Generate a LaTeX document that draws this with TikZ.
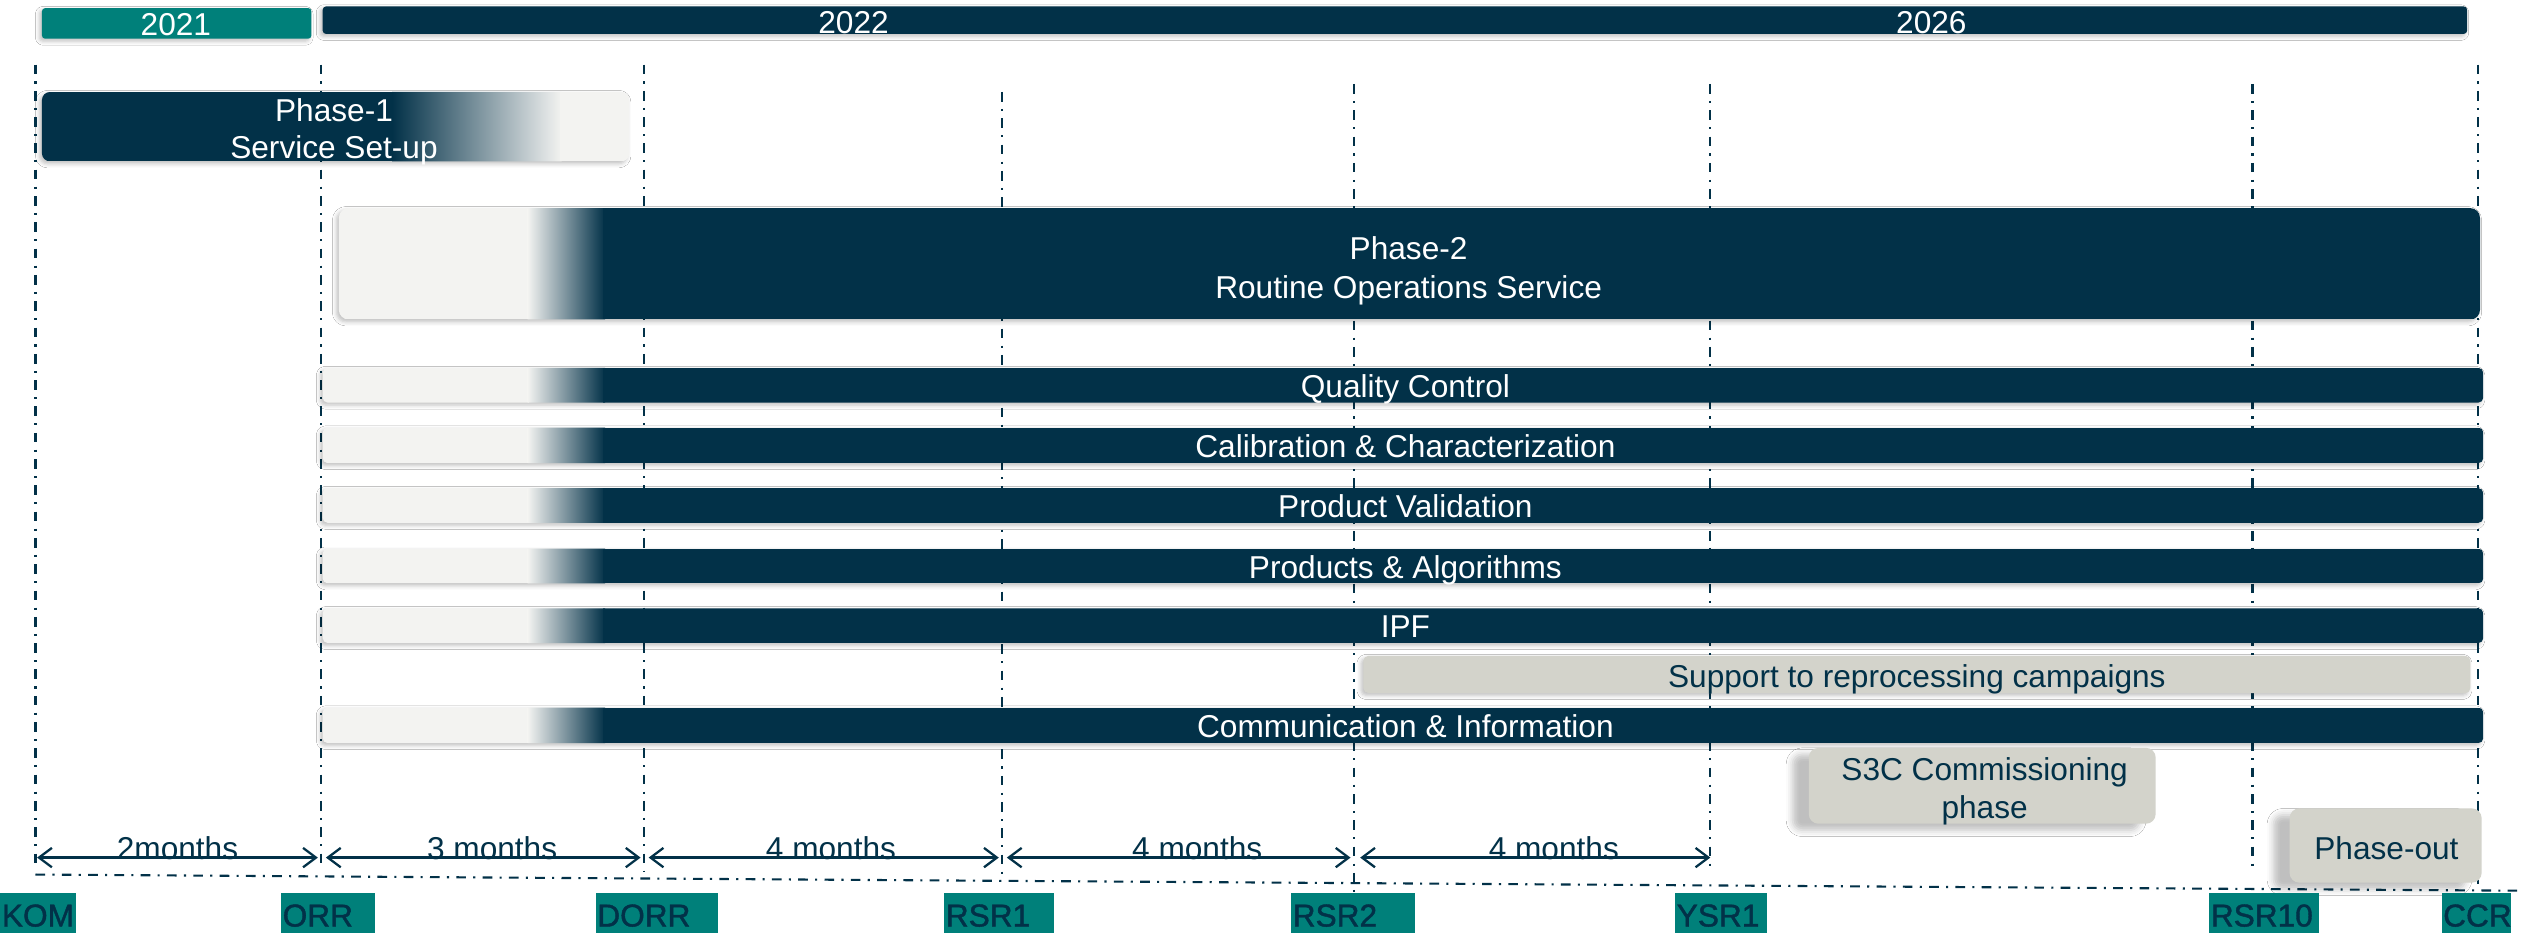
\documentclass[tikz,border=0pt]{standalone}
\usepackage{fontspec}
\setmainfont{Liberation Sans}
\newfontfamily\msfont[FakeBold=1.3]{Liberation Sans}
\usetikzlibrary{arrows.meta,shadows.blur}
\definecolor{navy}{RGB}{2,49,72}
\definecolor{tealc}{RGB}{0,128,122}
\definecolor{lightc}{RGB}{243,243,241}
\definecolor{grayc}{RGB}{211,211,203}
\newcommand{\fs}{\fontsize{19.6}{24}\selectfont}
\tikzset{
  vline/.style={navy, line width=1.3pt, dash pattern=on 6pt off 4.5pt on 1.3pt off 4.5pt},
  wtext/.style={font=\fs, text=white, inner sep=0pt, anchor=base, align=center},
  ntext/.style={font=\fs, text=navy, inner sep=0pt, anchor=base, align=center},
  mstone/.style={fill=tealc, text=navy, font=\msfont\fs, anchor=north west, inner xsep=1pt, inner ysep=2pt, text height=19pt, text depth=2pt, align=left},
  dimarrow/.style={navy, line width=1.4pt, {Straight Barb[length=8pt,width=12pt]}-{Straight Barb[length=8pt,width=12pt]}},
  softshadow/.style={blur shadow={shadow xshift=-1.5pt, shadow yshift=-1.5pt, shadow blur radius=2.5pt, shadow opacity=25}},
  boxshadow/.style={blur shadow={shadow xshift=-10pt, shadow yshift=-4pt, shadow blur radius=4pt, shadow opacity=25}},
}
\newcommand{\rowbar}[4]{%
  \path[softshadow, rounded corners=3pt] (200,#2) rectangle (1539,#3);
  \begin{scope}
    \clip[rounded corners=3pt] (200,#2) rectangle (1539,#3);
    \fill[lightc] (199,#2) rectangle (328,#3);
    \shade[left color=lightc, right color=navy] (327,#2) rectangle (375,#3);
    \fill[navy] (374,#2) rectangle (1540,#3);
  \end{scope}
  \node[wtext] (#1) at (871,{(#2+#3)/2+7.5}) {#4};
}
\begin{document}
\begin{tikzpicture}[x=1pt, y=-1pt]
\useasboundingbox (0,0) rectangle (1568,579);
\fill[white] (0,0) rectangle (1568,579);

% year bars
\path[softshadow, rounded corners=2pt] (26,5) rectangle (193,24);
\fill[tealc, rounded corners=2pt] (26,5) rectangle (193,24);
\node[wtext] (y2021) at (109,22) {2021};
\path[softshadow, rounded corners=2pt] (200,4) rectangle (1529,21);
\fill[navy, rounded corners=2pt] (200,4) rectangle (1529,21);
\node[wtext] (y2022) at (529,20.5) {2022};
\node[wtext] (y2026) at (1197,20.5) {2026};

% vertical milestone lines
\coordinate (komT) at (22,40);   \coordinate (komB) at (22,538);
\coordinate (orrT) at (199,40);  \coordinate (orrB) at (199,539);
\coordinate (dorrT) at (399,40); \coordinate (dorrB) at (399,540);
\coordinate (rsraT) at (621,57); \coordinate (rsraB) at (621,545);
\coordinate (rsrbT) at (839,52); \coordinate (rsrbB) at (839,553);
\coordinate (ysrT) at (1060,52); \coordinate (ysrB) at (1060,540);
\coordinate (rsrxT) at (1396,52); \coordinate (rsrxB) at (1396,540);
\coordinate (ccrT) at (1536,40); \coordinate (ccrB) at (1536,548);
\foreach \a in {kom,orr,dorr,rsra,rsrb,ysr,rsrx,ccr}
  \draw[vline] (\a T) -- (\a B);

% horizontal dash-dot line
\coordinate (hl) at (22,542); \coordinate (hr) at (1560,552);
\draw[vline] (hl) -- (hr);

% Phase-1
\path[softshadow, rounded corners=5pt] (26,57) rectangle (390,100);
\begin{scope}
  \clip[rounded corners=5pt] (26,57) rectangle (390,100);
  \fill[navy] (25,57) rectangle (244,100);
  \shade[left color=navy, right color=lightc] (243,57) rectangle (348,100);
  \fill[lightc] (347,57) rectangle (391,100);
\end{scope}
\node[wtext] (p1) at (207,75) {Phase-1};
\node[wtext] (p1b) at (207,98) {Service Set-up};

% Phase-2
\path[softshadow, rounded corners=6pt] (210,129) rectangle (1537,198);
\begin{scope}
  \clip[rounded corners=6pt] (210,129) rectangle (1537,198);
  \fill[lightc] (209,129) rectangle (328,198);
  \shade[left color=lightc, right color=navy] (327,129) rectangle (375,198);
  \fill[navy] (374,129) rectangle (1538,198);
\end{scope}
\node[wtext] (p2) at (873,161) {Phase-2};
\node[wtext] (p2b) at (873,185) {Routine Operations Service};

% rows
\rowbar{qc}{228}{249.5}{Quality Control}
\rowbar{cal}{265}{287}{Calibration \& Characterization}
\rowbar{pv}{302.5}{324}{Product Validation}
\rowbar{pa}{340}{361.5}{Products \& Algorithms}
\rowbar{ipf}{377}{398.5}{IPF}
\rowbar{ci}{438.5}{460.5}{Communication \& Information}

% support to reprocessing
\path[softshadow, rounded corners=3pt] (845,406.5) rectangle (1531,429.5);
\fill[grayc, rounded corners=3pt] (845,406.5) rectangle (1531,429.5);
\node[ntext] (sup) at (1188,426) {Support to reprocessing campaigns};

% S3C commissioning
\path[boxshadow, rounded corners=6pt] (1121,463.5) rectangle (1336,510.5);
\fill[grayc, rounded corners=6pt] (1121,463.5) rectangle (1336,510.5);
\node[ntext] (s3c) at (1230,483.5) {S3C Commissioning};
\node[ntext] (s3cb) at (1230,507) {phase};

% Phase-out
\path[boxshadow, rounded corners=6pt] (1419,501) rectangle (1538,547);
\fill[grayc, rounded corners=6pt] (1419,501) rectangle (1538,547);
\node[ntext] (pout) at (1479,532.5) {Phase-out};

% dimension arrows
\coordinate (d0) at (23,531.5);  \coordinate (d1) at (197,531.5);
\coordinate (d2) at (202,531.5); \coordinate (d3) at (397,531.5);
\coordinate (d4) at (402,531.5); \coordinate (d5) at (619,531.5);
\coordinate (d6) at (624,531.5); \coordinate (d7) at (837,531.5);
\coordinate (d8) at (843,531.5); \coordinate (d9) at (1060,531.5);
\draw[dimarrow] (d0) -- (d1);
\draw[dimarrow] (d2) -- (d3);
\draw[dimarrow] (d4) -- (d5);
\draw[dimarrow] (d6) -- (d7);
\draw[dimarrow] (d8) -- (d9);
\node[ntext] (m1) at (110,532.5) {2months};
\node[ntext] (m2) at (305,532.5) {3 months};
\node[ntext] (m3) at (515,532.5) {4 months};
\node[ntext] (m4) at (742,532.5) {4 months};
\node[ntext] (m5) at (963,532.5) {4 months};

% milestone labels
\node[mstone, text width=45pt] (kom) at (0,553) {KOM};
\node[mstone, text width=56pt] (orr) at (174,553) {ORR};
\node[mstone, text width=74pt] (dorr) at (369,553) {DORR};
\node[mstone, text width=66pt] (rsr1) at (585,553) {RSR1};
\node[mstone, text width=75pt] (rsr2) at (800,553) {RSR2};
\node[mstone, text width=55pt] (ysr1) at (1038,553) {YSR1};
\node[mstone, text width=66pt] (rsr10) at (1369,553) {RSR10};
\node[mstone, text width=41pt] (ccr) at (1513,553) {CCR};
\end{tikzpicture}
\end{document}
